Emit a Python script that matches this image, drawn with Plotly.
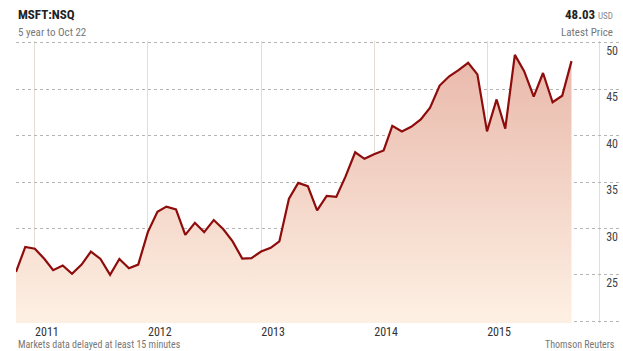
import plotly.graph_objects as go
import pandas as pd

# Monthly closing prices (Nov 2010 - Oct 2015)
dates = pd.date_range("2010-11-01", periods=60, freq="MS")
prices = [25.3, 28.0, 27.8, 26.7, 25.5, 26.0, 25.1, 26.1, 27.5, 26.7,
          25.0, 26.7, 25.7, 26.1, 29.6, 31.8, 32.35, 32.05, 29.3, 30.6,
          29.6, 30.9, 29.9, 28.6, 26.75, 26.8, 27.5, 27.9, 28.6, 33.2,
          34.9, 34.55, 31.95, 33.5, 33.4, 35.6, 38.2, 37.5, 38.0, 38.4,
          41.05, 40.45, 40.95, 41.75, 43.0, 45.4, 46.4, 47.05, 47.85, 46.6,
          40.45, 43.9, 40.75, 48.7, 46.95, 44.2, 46.75, 43.6, 44.3, 48.03]

y_ticks = [20, 25, 30, 35, 40, 45, 50]
y_tick_text = ["", "25", "30", "35", "40", "45", "50"]

title = "MSFT:NSQ"
subtitle = "5 year to Oct 22"
latest = "48.03"
currency = "USD"
source = "Thomson Reuters"
note = "Markets data delayed at least 15 minutes"

W, H = 623, 351
FONT = "Roboto Condensed, DejaVu Sans Condensed, Liberation Sans Narrow, Arial Narrow, Roboto, sans-serif"

fig = go.Figure()
fig.add_trace(go.Scatter(
    x=dates, y=prices, mode="lines",
    line=dict(color="#8e0c0c", width=2.2),
    fill="tozeroy",
    fillgradient=dict(type="vertical", start=20, stop=50,
                      colorscale=[[0, "#fdf0e3"], [1, "#e8b6a8"]]),
    hoverinfo="skip", showlegend=False,
))

fig.update_layout(
    width=W, height=H,
    margin=dict(l=0, r=0, t=0, b=0, autoexpand=False),
    paper_bgcolor="white", plot_bgcolor="white",
    font=dict(family=FONT, color="#444"),
    xaxis=dict(
        domain=[16 / W, 621 / W],
        type="date",
        range=["2010-11-01", "2016-03-09"],
        tick0="2011-01-01", dtick="M12", tickformat="%Y",
        showgrid=True, gridcolor="#e2ddd5", gridwidth=1,
        ticks="", ticklabelshift=12, ticklabelstandoff=0,
        tickfont=dict(size=12, color="#333", family=FONT),
        showline=False, zeroline=False, layer="above traces",
        automargin=False,
    ),
    yaxis=dict(
        domain=[1 - 323 / H, 1 - 41 / H],
        range=[19.8, 50.2],
        tickvals=y_ticks, ticktext=y_tick_text,
        side="right", ticklabelposition="inside",
        ticklabeloverflow="allow",
        ticklabelshift=8,
        showgrid=True, gridcolor="#b5b5b5", griddash="dot", gridwidth=1,
        ticks="", tickfont=dict(size=12, color="#444", family=FONT),
        showline=False, zeroline=False, layer="above traces",
        automargin=False,
    ),
)

ann = [
    dict(text="<b>" + title + "</b>", x=16 / W, y=1 - 15 / H, xanchor="left",
         yanchor="middle", font=dict(size=13, color="#222")),
    dict(text=subtitle, x=16 / W, y=1 - 32 / H, xanchor="left",
         yanchor="middle", font=dict(size=11, color="#777")),
    dict(text="<b>" + latest + "</b> <span style='font-size:9px;color:#888'>" + currency + "</span>",
         x=615 / W, y=1 - 15 / H, xanchor="right", yanchor="middle",
         font=dict(size=13, color="#222")),
    dict(text="Latest Price", x=615 / W, y=1 - 32 / H, xanchor="right",
         yanchor="middle", font=dict(size=11, color="#777")),
    dict(text=note, x=16 / W, y=1 - 344 / H, xanchor="left", yanchor="middle",
         font=dict(size=10, color="#777")),
    dict(text=source, x=617 / W, y=1 - 344 / H, xanchor="right", yanchor="middle",
         font=dict(size=10, color="#777")),
]
for a in ann:
    a.update(xref="paper", yref="paper", showarrow=False)
fig.update_layout(annotations=ann)

fig.write_html("out.html")
